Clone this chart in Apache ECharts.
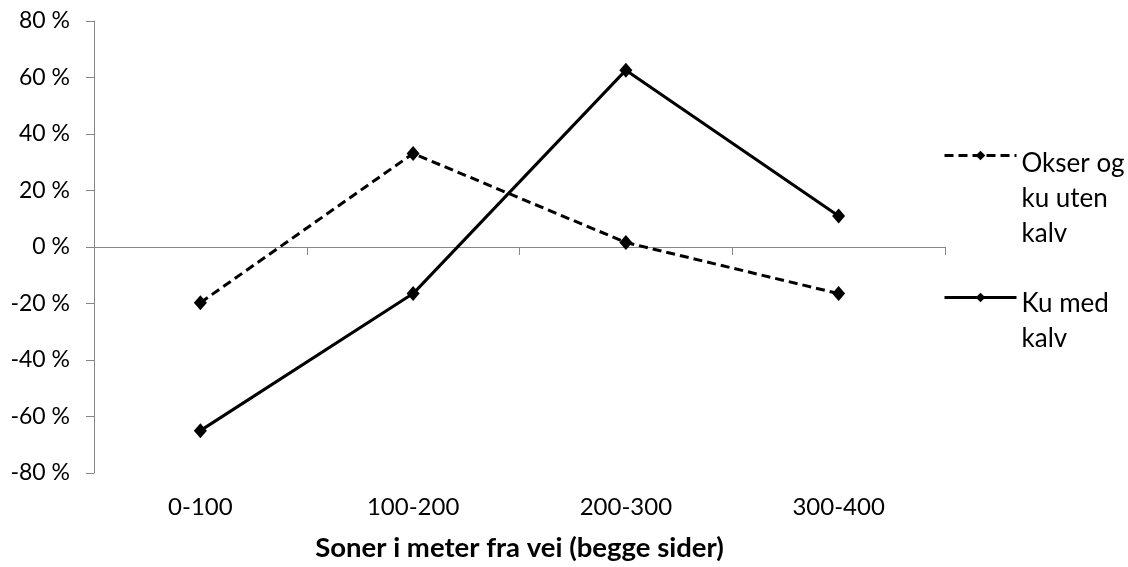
<!DOCTYPE html>
<html>
<head>
<meta charset="utf-8">
<script src="https://cdn.jsdelivr.net/npm/echarts@6/dist/echarts.min.js"></script>
<style>
  html, body { margin: 0; padding: 0; background: #fff; }
  #chart { width: 1128px; height: 567px; }
</style>
</head>
<body>
<div id="chart"></div>
<script>
const categories = ['0-100', '100-200', '200-300', '300-400'];
const okserOgKuUtenKalv = [-0.197, 0.331, 0.016, -0.165];
const kuMedKalv = [-0.65, -0.165, 0.626, 0.11];
const seriesNames = ['Okser og ku uten kalv', 'Ku med kalv'];
const legendLabels = ['Okser og\nku uten\nkalv', 'Ku med\nkalv'];
const xAxisTitle = 'Soner i meter fra vei (begge sider)';

const FONT = 'Lato';
const AXIS_GRAY = '#868686';

const chart = echarts.init(document.getElementById('chart'), null, { renderer: 'canvas' });

// spacer styles so that the legend symbol sits beside the first text line
const spacerStyle = ['s0', 's1'];

const option = {
  animation: false,
  backgroundColor: '#ffffff',
  textStyle: { fontFamily: FONT, color: '#000' },
  grid: { left: 94, right: 183, top: 21, bottom: 91, containLabel: false },
  legend: {
    orient: 'vertical',
    left: 943,
    top: 60,
    padding: 0,
    itemWidth: 72,
    itemHeight: 12,
    itemGap: -12,
    lineStyle: { width: 3 },
    textStyle: {
      fontFamily: FONT, fontSize: 26, lineHeight: 35, color: '#000',
      rich: {
        s0: { lineHeight: 86, fontSize: 26 },
        s1: { lineHeight: 47, fontSize: 26 }
      }
    },
    formatter: function (name) {
      const i = seriesNames.indexOf(name);
      return '{' + spacerStyle[i] + '|}\n' + legendLabels[i];
    },
    data: seriesNames
  },
  xAxis: [
    {
      type: 'category',
      data: categories,
      boundaryGap: true,
      axisLine: { onZero: true, lineStyle: { color: AXIS_GRAY, width: 1 } },
      axisTick: { show: true, length: 8, lineStyle: { color: AXIS_GRAY } },
      axisLabel: { show: false },
      splitLine: { show: false }
    },
    {
      type: 'category',
      data: categories,
      position: 'bottom',
      boundaryGap: true,
      axisLine: { show: false, onZero: false },
      axisTick: { show: false },
      axisLabel: { show: true, margin: 22, fontSize: 24, fontFamily: FONT, color: '#000' },
      splitLine: { show: false },
      name: xAxisTitle,
      nameLocation: 'middle',
      nameGap: 61,
      nameTextStyle: { fontFamily: FONT, fontSize: 27.5, fontWeight: 'bold', color: '#000' }
    }
  ],
  yAxis: {
    type: 'value',
    min: -0.8,
    max: 0.8,
    interval: 0.2,
    axisLine: { show: true, lineStyle: { color: AXIS_GRAY, width: 1 } },
    axisTick: { show: true, length: 8, lineStyle: { color: AXIS_GRAY } },
    splitLine: { show: false },
    axisLabel: {
      margin: 24,
      fontSize: 23,
      fontFamily: FONT,
      color: '#000',
      formatter: function (v) { return Math.round(v * 100) + ' %'; }
    }
  },
  series: [
    {
      name: seriesNames[0],
      type: 'line',
      xAxisIndex: 0,
      data: okserOgKuUtenKalv,
      symbol: 'diamond',
      symbolSize: [13, 15],
      itemStyle: { color: '#000', borderWidth: 0 },
      lineStyle: { color: '#000', width: 3, type: [9, 5] }
    },
    {
      name: seriesNames[1],
      type: 'line',
      xAxisIndex: 0,
      data: kuMedKalv,
      symbol: 'diamond',
      symbolSize: [13, 15],
      itemStyle: { color: '#000', borderWidth: 0 },
      lineStyle: { color: '#000', width: 3, type: 'solid' }
    }
  ]
};

chart.setOption(option);
</script>
</body>
</html>
